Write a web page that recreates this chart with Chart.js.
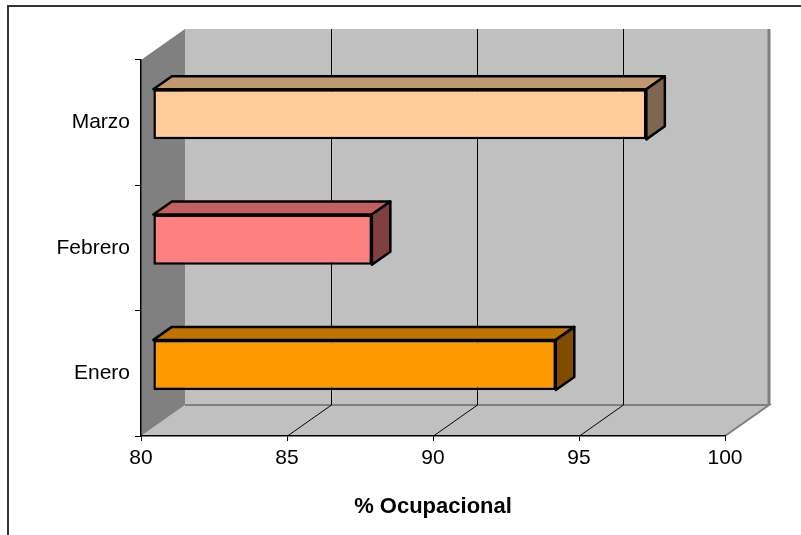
<!DOCTYPE html>
<html>
<head>
<meta charset="utf-8">
<script src="https://cdn.jsdelivr.net/npm/chart.js@4/dist/chart.umd.min.js"></script>
<style>
  html, body { margin: 0; padding: 0; background: #fff; }
  #wrap { width: 801px; height: 535px; position: relative; }
</style>
</head>
<body>
<div id="wrap"><canvas id="c" width="801" height="535"></canvas></div>
<script>
// Occupancy per month
const categories = ['Enero', 'Febrero', 'Marzo'];
const occupancy = [93.8, 87.5, 96.9];
const xTicks = [80, 85, 90, 95, 100];

// Face colours of each box: front, top (shaded), side (dark)
const frontColors = ['#FF9900', '#FF8080', '#FFCC99'];
const topColors = ['#C07300', '#C06060', '#C0996F'];
const sideColors = ['#804C00', '#804040', '#806650'];

// Oblique depth of the plot box and where the bars sit inside it
const DEPTH = { x: 44, y: -31 };
const BAR_FRONT = 0.27;
const BAR_BACK = 0.69;

const box3d = {
  id: 'box3d',
  beforeDraw(chart) {
    const { ctx, chartArea: a, scales: { x } } = chart;
    const L = a.left, R = a.right, T = a.top, B = a.bottom;
    const dx = DEPTH.x, dy = DEPTH.y;
    ctx.save();
    ctx.fillStyle = '#ffffff';
    ctx.fillRect(0, 0, chart.width, chart.height);

    // outer frame
    ctx.strokeStyle = '#333333';
    ctx.lineWidth = 2;
    ctx.beginPath();
    ctx.moveTo(8, chart.height + 2);
    ctx.lineTo(8, 6);
    ctx.lineTo(chart.width + 2, 6);
    ctx.stroke();

    // back wall
    ctx.fillStyle = '#C0C0C0';
    ctx.fillRect(L + dx, T + dy, R - L, B - T);
    ctx.strokeStyle = '#808080';
    ctx.lineWidth = 3;
    ctx.beginPath();
    ctx.moveTo(R + dx, T + dy);
    ctx.lineTo(R + dx, B + dy);
    ctx.stroke();

    // floor
    ctx.fillStyle = '#C0C0C0';
    ctx.beginPath();
    ctx.moveTo(L, B);
    ctx.lineTo(L + dx, B + dy);
    ctx.lineTo(R + dx, B + dy);
    ctx.lineTo(R, B);
    ctx.closePath();
    ctx.fill();
    ctx.strokeStyle = '#808080';
    ctx.lineWidth = 2;
    ctx.beginPath();
    ctx.moveTo(L + dx, B + dy);
    ctx.lineTo(R + dx, B + dy);
    ctx.lineTo(R, B);
    ctx.stroke();

    // side wall
    ctx.fillStyle = '#808080';
    ctx.beginPath();
    ctx.moveTo(L, T);
    ctx.lineTo(L + dx, T + dy);
    ctx.lineTo(L + dx, B + dy);
    ctx.lineTo(L, B);
    ctx.closePath();
    ctx.fill();

    // gridlines on the back wall and across the floor
    ctx.strokeStyle = '#000000';
    ctx.lineWidth = 1;
    xTicks.slice(1, -1).forEach(v => {
      const px = Math.round(x.getPixelForValue(v)) + 0.5;
      ctx.beginPath();
      ctx.moveTo(px + dx, T + dy);
      ctx.lineTo(px + dx, B + dy);
      ctx.moveTo(px, B);
      ctx.lineTo(px + dx, B + dy);
      ctx.stroke();
    });
    ctx.restore();
  },
  beforeDatasetDraw(chart) {
    // front faces are drawn by Chart.js, pushed into the box depth
    chart.ctx.save();
    chart.ctx.translate(DEPTH.x * BAR_FRONT, DEPTH.y * BAR_FRONT);
  },
  afterDatasetDraw(chart, args) {
    const ctx = chart.ctx;
    ctx.restore();
    const fx = DEPTH.x * BAR_FRONT, fy = DEPTH.y * BAR_FRONT;
    const bx = DEPTH.x * (BAR_BACK - BAR_FRONT), by = DEPTH.y * (BAR_BACK - BAR_FRONT);
    ctx.save();
    ctx.lineWidth = 2.5;
    ctx.lineJoin = 'round';
    ctx.strokeStyle = '#000000';
    args.meta.data.forEach((el, i) => {
      const x0 = el.base + fx, x1 = el.x + fx;
      const y0 = el.y - el.height / 2 + fy, y1 = el.y + el.height / 2 + fy;
      // top face
      ctx.fillStyle = topColors[i];
      ctx.beginPath();
      ctx.moveTo(x0, y0);
      ctx.lineTo(x0 + bx, y0 + by);
      ctx.lineTo(x1 + bx, y0 + by);
      ctx.lineTo(x1, y0);
      ctx.closePath();
      ctx.fill();
      ctx.stroke();
      // side face
      ctx.fillStyle = sideColors[i];
      ctx.beginPath();
      ctx.moveTo(x1, y0);
      ctx.lineTo(x1 + bx, y0 + by);
      ctx.lineTo(x1 + bx, y1 + by);
      ctx.lineTo(x1, y1);
      ctx.closePath();
      ctx.fill();
      ctx.stroke();
    });
    ctx.restore();
  }
};

Chart.defaults.font.family = "'Liberation Sans', Arial, sans-serif";
Chart.defaults.font.size = 21;
Chart.defaults.color = '#000000';

new Chart(document.getElementById('c'), {
  type: 'bar',
  data: {
    labels: categories,
    datasets: [{
      data: occupancy,
      base: 80,
      backgroundColor: frontColors,
      borderColor: '#000000',
      borderWidth: 2.5,
      borderSkipped: false,
      barPercentage: 0.4,
      categoryPercentage: 1,
      clip: false
    }]
  },
  options: {
    indexAxis: 'y',
    responsive: false,
    animation: false,
    events: [],
    layout: { padding: { left: 0, top: 60, right: 76, bottom: 0 } },
    plugins: { legend: { display: false }, tooltip: { enabled: false } },
    scales: {
      x: {
        min: 80,
        max: 100,
        ticks: { stepSize: 5, padding: 5, color: '#000000', font: { size: 21 } },
        grid: { drawOnChartArea: false, drawTicks: true, tickLength: 5, color: '#000000', lineWidth: 1 },
        border: { display: true, color: '#000000', width: 1.5 },
        title: { display: true, text: '% Ocupacional', color: '#000000', font: { size: 22, weight: 'bold' }, padding: { top: 0, bottom: 15 } },
        afterFit(scale) { scale.height = 99; }
      },
      y: {
        reverse: true,
        ticks: { padding: 5, color: '#000000', font: { size: 21 } },
        grid: { drawOnChartArea: false, drawTicks: true, tickLength: 6, color: '#000000', lineWidth: 1, offset: true },
        border: { display: true, color: '#000000', width: 1.5 },
        afterFit(scale) { scale.width = 141; }
      }
    }
  },
  plugins: [box3d]
});
</script>
</body>
</html>
